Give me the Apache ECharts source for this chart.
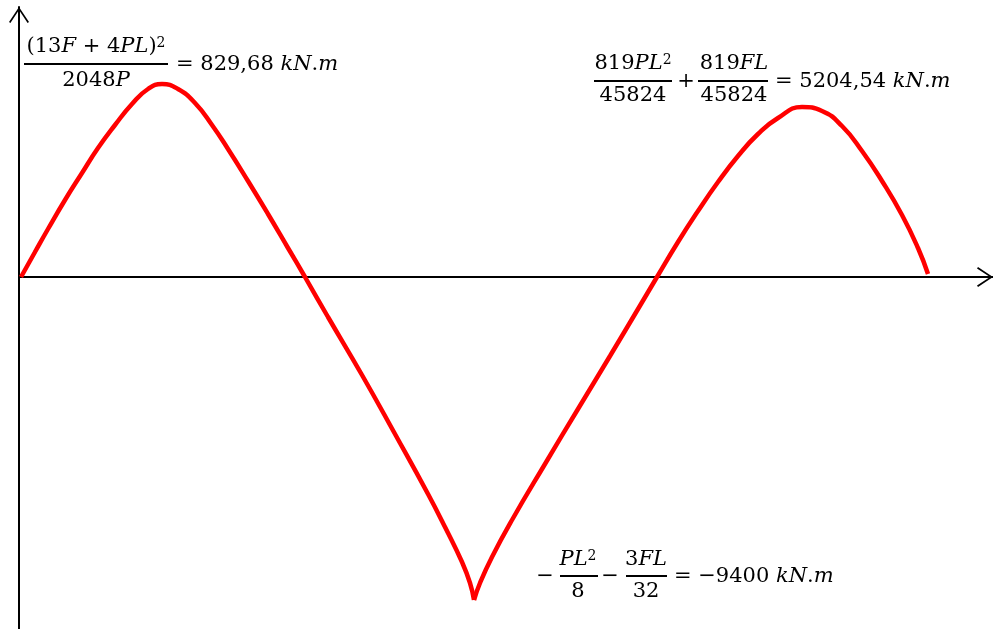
<!DOCTYPE html>
<html>
<head>
<meta charset="utf-8">
<title>Moment diagram</title>
<script src="https://cdn.jsdelivr.net/npm/echarts@6/dist/echarts.min.js"></script>
<style>
  html, body { margin: 0; padding: 0; background: #fff; }
  #chart { width: 993px; height: 629px; }
</style>
</head>
<body>
<div id="chart"></div>
<script>
// beam position (left part up to the cusp) and moment ordinate
var xLeft = [2, 16, 29, 46, 63, 79, 96, 113, 129, 143, 159, 176, 193, 209, 229, 249, 269, 286,
             309, 343, 376, 409, 426, 443, 451, 455];
var mLeft = [0, 25, 48, 77, 104, 129, 152, 173, 188, 193, 188, 174, 152, 128, 96, 63, 29, 0,
             -40, -98, -157, -217, -250, -285, -306, -323];
// right part, from the cusp to the end
var xRight = [455, 461, 473, 493, 526, 559, 591, 622, 638,
              659, 679, 699, 719, 739, 759, 783, 803, 823, 843, 863, 883, 899, 909];
var mRight = [-323, -306, -280, -243, -187, -132, -79, -27, 0,
              35, 66, 95, 121, 143, 159, 170, 166, 151, 126, 96, 62, 29, 3];

var FONT = 'DejaVu Serif';
var SIZE = 21;

function zip(xs, ys) {
    return xs.map(function (x, i) { return [x, ys[i]]; });
}

var rich = {
    n: { fontFamily: FONT, fontSize: SIZE, fontStyle: 'normal', fill: '#000' },
    i: { fontFamily: FONT, fontSize: SIZE, fontStyle: 'italic', fill: '#000' },
    s: { fontFamily: FONT, fontSize: 14, fontStyle: 'normal', fill: '#000', verticalAlign: 'top' }
};

function txt(x, y, text, align) {
    return {
        type: 'text', x: x, y: y, silent: true,
        style: {
            text: text, rich: rich, fontFamily: FONT, fontSize: SIZE, fill: '#000',
            align: align || 'center', verticalAlign: 'middle'
        }
    };
}

function bar(x1, x2, y) {
    return {
        type: 'line', silent: true,
        shape: { x1: x1, y1: y, x2: x2, y2: y },
        style: { stroke: '#000', lineWidth: 2 }
    };
}

var labels = [
    // left maximum
    txt(96, 47, '{n|(13}{i|F}{n| + 4}{i|PL}{n|)}{s|2}'),
    bar(24, 168, 64),
    txt(96, 81, '{n|2048}{i|P}'),
    txt(176, 65, '{n|= 829,68 }{i|kN}{n|.}{i|m}', 'left'),
    // right maximum
    txt(633, 64, '{n|819}{i|PL}{s|2}'),
    bar(594, 672, 81),
    txt(633, 96, '{n|45824}'),
    txt(686, 82, '{n|+}'),
    txt(734, 64, '{n|819}{i|FL}'),
    bar(698, 768, 81),
    txt(734, 96, '{n|45824}'),
    txt(775, 82, '{n|= 5204,54 }{i|kN}{n|.}{i|m}', 'left'),
    // minimum
    txt(545, 577, '{n|−}'),
    txt(578, 560, '{i|PL}{s|2}'),
    bar(560, 598, 576),
    txt(578, 592, '{n|8}'),
    txt(610, 577, '{n|−}'),
    txt(646, 560, '{n|3}{i|FL}'),
    bar(626, 667, 576),
    txt(646, 592, '{n|32}'),
    txt(674, 577, '{n|= −9400 }{i|kN}{n|.}{i|m}', 'left')
];

var chevron = 'path://M0,15 L10,0 L20,15 L18.6,16 L10,3 L1.4,16 Z';

var chart = echarts.init(document.getElementById('chart'));
chart.setOption({
    animation: false,
    backgroundColor: '#fff',
    grid: { left: 19, right: 0, top: 7, bottom: 0 },
    xAxis: {
        type: 'value', min: 0, max: 974,
        axisLine: {
            show: true, onZero: true,
            symbol: ['none', chevron], symbolSize: [20, 16], symbolOffset: [0, -8],
            lineStyle: { color: '#000', width: 2 }
        },
        axisTick: { show: false }, axisLabel: { show: false }, splitLine: { show: false }
    },
    yAxis: {
        type: 'value', min: -352, max: 270,
        axisLine: {
            show: true, onZero: true,
            symbol: ['none', chevron], symbolSize: [20, 16], symbolOffset: [0, -8],
            lineStyle: { color: '#000', width: 2 }
        },
        axisTick: { show: false }, axisLabel: { show: false }, splitLine: { show: false }
    },
    series: [
        {
            type: 'line', data: zip(xLeft, mLeft), smooth: 0.5,
            showSymbol: false, lineStyle: { color: '#ff0000', width: 4.5 }
        },
        {
            type: 'line', data: zip(xRight, mRight), smooth: 0.5,
            showSymbol: false, lineStyle: { color: '#ff0000', width: 4.5 }
        }
    ],
    graphic: labels
});
</script>
</body>
</html>
